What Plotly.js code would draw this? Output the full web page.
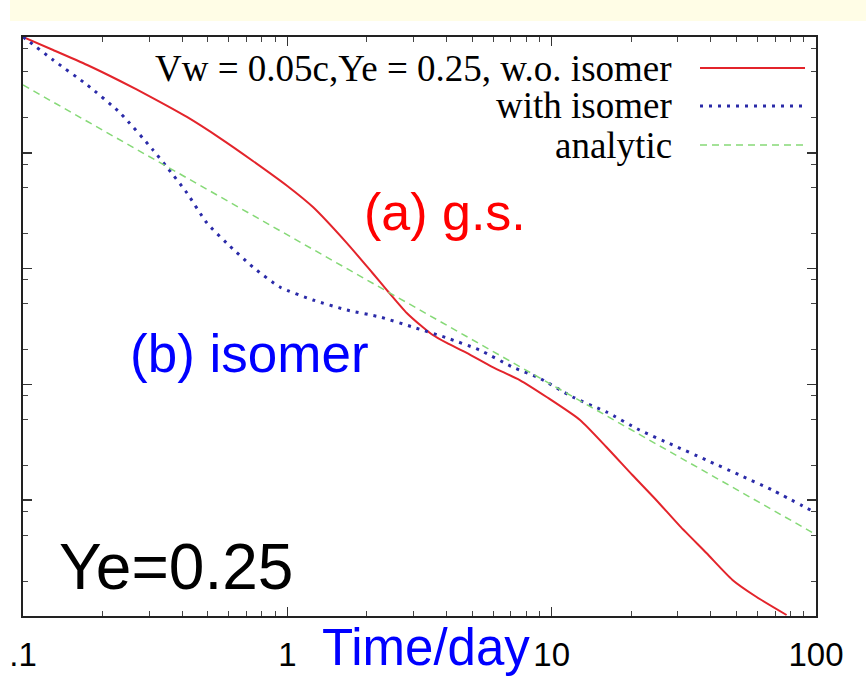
<!DOCTYPE html>
<html>
<head>
<meta charset="utf-8">
<script src="https://cdn.plot.ly/plotly-3.0.1.min.js"></script>
<style>
  html, body { margin: 0; padding: 0; background: #ffffff; }
  #chart { width: 866px; height: 676px; }
</style>
</head>
<body>
<div id="chart"></div>
<script>
// ---- data ----
const seriesNames = ["Vw = 0.05c,Ye = 0.25, w.o. isomer", "with isomer", "analytic"];

const redTime  = [0.1, 0.130, 0.175, 0.233, 0.310, 0.417, 0.556, 0.741, 1.0, 1.25, 1.68, 2.10, 2.38, 2.83, 3.25, 3.55, 4.01, 4.77, 5.98, 7.57, 9.57, 12.8, 16.1, 20.2, 24.9, 30.5, 38.5, 48.3, 59.6, 77.4];
const redValue = [1.0e10, 7.72e9, 5.73e9, 4.17e9, 2.97e9, 2.04e9, 1.34e9, 8.50e8, 5.17e8, 3.40e8, 1.66e8, 9.16e7, 6.53e7, 4.14e7, 3.13e7, 2.67e7, 2.28e7, 1.87e7, 1.41e7, 1.09e7, 7.78e6, 4.93e6, 2.88e6, 1.65e6, 1.00e6, 6.00e5, 3.50e5, 2.05e5, 1.46e5, 1.02e5];

const blueTime  = [0.1, 0.106, 0.130, 0.175, 0.233, 0.310, 0.350, 0.417, 0.496, 0.590, 0.741, 0.937, 1.25, 1.68, 2.24, 2.98, 4.01, 5.34, 7.12, 9.01, 12.0, 16.1, 21.5, 28.7, 38.5, 51.4, 68.5, 100];
const blueValue = [1.0e10, 9.06e9, 6.33e9, 3.85e9, 2.21e9, 1.06e9, 7.54e8, 4.50e8, 2.48e8, 1.66e8, 1.03e8, 6.94e7, 5.36e7, 4.39e7, 3.82e7, 3.13e7, 2.52e7, 1.98e7, 1.41e7, 1.13e7, 7.78e6, 5.78e6, 4.04e6, 3.00e6, 2.22e6, 1.65e6, 1.22e6, 7.75e5];

const analyticTime  = [0.1, 1, 10, 100];
const analyticValue = [3.85e9, 1.95e8, 9.89e6, 5.05e5];

const xTickVals = [0.1, 1, 10, 100];
const xTickText = [".1", "1", "10", "100"];
const xMinorVals = [0.2,0.3,0.4,0.5,0.6,0.7,0.8,0.9, 2,3,4,5,6,7,8,9, 20,30,40,50,60,70,80,90];
const yTickVals = [1e5, 1e6, 1e7, 1e8, 1e9, 1e10];
const yMinorVals = [2e5,5e5,8e5, 2e6,5e6,8e6, 2e7,5e7,8e7, 2e8,5e8,8e8, 2e9,5e9,8e9];

const labelA = "(a) g.s.";
const labelB = "(b) isomer";
const labelYe = "Ye=0.25";
const xTitle = "Time/day";

// ---- styling / layout ----
const W = 866, H = 676;
const M = { l: 23, r: 50, t: 37, b: 60 };
const PW = W - M.l - M.r, PH = H - M.t - M.b;
const px = x => (x - M.l) / PW;
const py = y => (H - M.b - y) / PH;

const RED = "#e3242b", BLUE = "#2a2aa8", GREEN = "#86d977";
const SERIF = "Liberation Serif, Times New Roman, serif";
const SANS = "Liberation Sans, Arial, Helvetica, sans-serif";

const traces = [
  { x: redTime, y: redValue, name: seriesNames[0], mode: "lines",
    line: { color: RED, width: 2, shape: "spline", smoothing: 0.6 } },
  { x: blueTime, y: blueValue, name: seriesNames[1], mode: "lines",
    line: { color: BLUE, width: 3, dash: "3px,6px", shape: "spline", smoothing: 0.6 } },
  { x: analyticTime, y: analyticValue, name: seriesNames[2], mode: "lines",
    line: { color: GREEN, width: 1.5, dash: "7px,5px" } }
];

const legendRows = [68, 106, 145];
const legendStyles = [
  { color: RED, width: 2 },
  { color: BLUE, width: 3, dash: "3px,6px" },
  { color: GREEN, width: 1.5, dash: "7px,5px" }
];

const annotations = [];
const shapes = [
  { type: "rect", xref: "paper", yref: "paper", x0: px(10), x1: px(866), y0: py(21), y1: py(0),
    fillcolor: "#fffde6", line: { width: 0 }, layer: "below" }
];
seriesNames.forEach((n, i) => {
  annotations.push({ text: n, xref: "paper", yref: "paper", x: px(674), y: py(legendRows[i]),
    xanchor: "right", yanchor: "middle", showarrow: false,
    font: { family: SERIF, size: 37, color: "#000" } });
  shapes.push({ type: "line", xref: "paper", yref: "paper", x0: px(700), x1: px(805),
    y0: py(legendRows[i]), y1: py(legendRows[i]), line: legendStyles[i] });
});
annotations.push(
  { text: labelA, xref: "paper", yref: "paper", x: px(362), y: py(212), xanchor: "left", yanchor: "middle",
    showarrow: false, font: { family: SANS, size: 52, color: "#ff0000" } },
  { text: labelB, xref: "paper", yref: "paper", x: px(128), y: py(353), xanchor: "left", yanchor: "middle",
    showarrow: false, font: { family: SANS, size: 53, color: "#0000ff" } },
  { text: labelYe, xref: "paper", yref: "paper", x: px(57), y: py(567), xanchor: "left", yanchor: "middle",
    showarrow: false, font: { family: SANS, size: 64, color: "#000" } },
  { text: xTitle, xref: "paper", yref: "paper", x: px(426), y: py(647), xanchor: "center", yanchor: "middle",
    showarrow: false, font: { family: SANS, size: 51, color: "#0000ff" } }
);

const axisCommon = {
  showline: true, linecolor: "#222", linewidth: 2, mirror: "allticks",
  ticks: "inside", ticklen: 9, tickwidth: 1.5, tickcolor: "#333",
  showgrid: false, zeroline: false
};

const layout = {
  width: W, height: H,
  margin: M,
  paper_bgcolor: "#ffffff", plot_bgcolor: "#ffffff",
  showlegend: false,
  xaxis: Object.assign({}, axisCommon, {
    type: "log", range: [-1, 2],
    tickmode: "array", tickvals: xTickVals, ticktext: xTickText,
    tickfont: { family: SANS, size: 33, color: "#000" },
    ticklabelstandoff: 8, ticklabeloverflow: "allow",
    minor: { tickmode: "array", tickvals: xMinorVals, ticks: "inside", ticklen: 5, tickcolor: "#444", tickwidth: 1 }
  }),
  yaxis: Object.assign({}, axisCommon, {
    type: "log", range: [5, 10],
    tickmode: "array", tickvals: yTickVals, showticklabels: false,
    minor: { tickmode: "array", tickvals: yMinorVals, ticks: "inside", ticklen: 5, tickcolor: "#444", tickwidth: 1 }
  }),
  annotations: annotations,
  shapes: shapes
};

Plotly.newPlot("chart", traces, layout, { staticPlot: true, displayModeBar: false });
</script>
</body>
</html>
